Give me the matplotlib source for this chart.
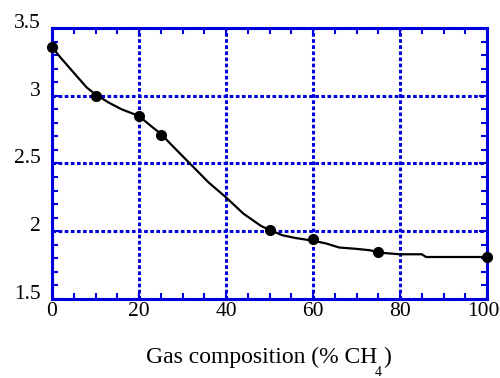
import matplotlib
matplotlib.use("Agg")
import matplotlib.pyplot as plt
from matplotlib.ticker import MultipleLocator
from matplotlib.transforms import ScaledTranslation

plt.rcParams['font.family'] = ['Liberation Serif', 'DejaVu Serif']

# measured points
pt_x = [0, 10, 20, 25, 50, 60, 75, 100]
pt_y = [3.36, 3.00, 2.85, 2.71, 2.01, 1.94, 1.85, 1.81]

# traced curve
curve_x = [0, 2, 5, 8, 10, 13, 16, 20, 23, 25, 28, 32, 36, 40, 44, 48, 50,
           53, 56, 60, 63, 66, 70, 73, 76, 80, 84, 85, 86, 90, 95, 100]
curve_y = [3.36, 3.28, 3.17, 3.06, 3.01, 2.95, 2.90, 2.85, 2.77, 2.72, 2.62,
           2.49, 2.36, 2.25, 2.13, 2.04, 2.01, 1.97, 1.95, 1.93, 1.91, 1.88,
           1.87, 1.86, 1.84, 1.83, 1.83, 1.83, 1.81, 1.81, 1.81, 1.81]

xticks = [0, 20, 40, 60, 80, 100]
yticks = [1.5, 2, 2.5, 3, 3.5]
ytick_labels = ['1.5', '2', '2.5', '3', '3.5']
xlabel_main = 'Gas composition (% CH'
xlabel_sub = '4'
xlabel_end = ')'

blue = '#0000dd'

fig = plt.figure(figsize=(5, 3.78), dpi=100)
ax = fig.add_axes([0.104, 0.209, 0.870, 0.717])

ax.plot(curve_x, curve_y, color='black', lw=1.6, zorder=3, clip_on=False)
ax.plot(pt_x, pt_y, 'o', color='black', ms=7, zorder=4, clip_on=False)

ax.set_xlim(0, 100)
ax.set_ylim(1.5, 3.5)
ax.set_xticks(xticks)
ax.set_yticks(yticks)
ax.set_yticklabels(ytick_labels)
ax.xaxis.set_minor_locator(MultipleLocator(5))
ax.yaxis.set_minor_locator(MultipleLocator(0.1))

ax.grid(True, which='major', color=blue, linestyle=(0, (1.2, 0.8)), lw=2.2)
for s in ax.spines.values():
    s.set_color(blue)
    s.set_linewidth(2.2)

ax.tick_params(which='both', direction='in', top=True, right=True,
               color=blue, labelsize=15.5, labelcolor='black')
ax.tick_params(which='major', length=6, width=1.5)
ax.tick_params(axis='x', which='major', pad=2)
ax.tick_params(axis='y', which='major', pad=8)
ax.tick_params(which='minor', length=4, width=1.5)

# y labels sit slightly above their ticks in the reference
up = ScaledTranslation(0, 7 / 100, fig.dpi_scale_trans)
for lab in ax.get_yticklabels():
    lab.set_transform(lab.get_transform() + up)
# last x label shifted left so it stays inside the figure
xl = ax.get_xticklabels()
xl[-1].set_transform(xl[-1].get_transform() + ScaledTranslation(-4 / 100, 0, fig.dpi_scale_trans))

H = 378.0
fig.text(146 / 500, 1 - 363 / H, xlabel_main, fontsize=17, ha='left', va='baseline')
fig.text(375 / 500, 1 - 366 / H, xlabel_sub, fontsize=10, ha='left', va='top')
fig.text(383 / 500, 1 - 363 / H, xlabel_end, fontsize=17, ha='left', va='baseline')

fig.savefig('out.png', dpi=100)
